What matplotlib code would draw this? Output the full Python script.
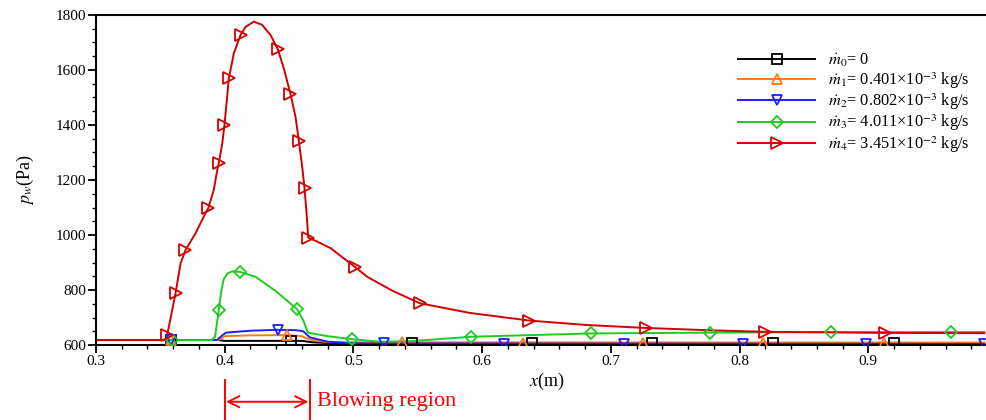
import numpy as np
import matplotlib
matplotlib.use("Agg")
import matplotlib.pyplot as plt
from matplotlib.lines import Line2D
from matplotlib.ticker import MultipleLocator

plt.rcParams['font.family'] = ['Liberation Serif', 'DejaVu Serif']
plt.rcParams['mathtext.fontset'] = 'stix'

# ---- data ----
# m0 = 0 (black)
x0 = [0.30, 0.395, 0.400, 0.460, 0.468, 0.480, 0.990]
y0 = [618, 618, 615, 615, 610, 607, 606]
x0_mk = [0.358, 0.4516, 0.5457, 0.639, 0.732, 0.826, 0.920]
y0_mk = [618, 613, 608, 607, 606, 606, 606]

# m1 = 0.401e-3 kg/s (orange)
x1 = [0.30, 0.395, 0.400, 0.420, 0.449, 0.460, 0.466, 0.480, 0.990]
y1 = [618, 618, 632, 635, 636, 632, 620, 610, 609]
x1_mk = [0.358, 0.4486, 0.538, 0.632, 0.725, 0.818, 0.912]
y1_mk = [618, 636, 610, 609, 609, 609, 609]

# m2 = 0.802e-3 kg/s (blue)
x2 = [0.30, 0.394, 0.398, 0.401, 0.420, 0.440, 0.455, 0.461, 0.466, 0.480, 0.500, 0.990]
y2 = [618, 618, 635, 645, 652, 655, 654, 650, 628, 612, 606, 604]
x2_mk = [0.358, 0.4416, 0.5236, 0.617, 0.710, 0.803, 0.898, 0.990]
y2_mk = [618, 654, 606, 605, 604, 604, 604, 604]

# m3 = 4.011e-3 kg/s (green)
x3 = [0.30, 0.390, 0.3925, 0.3954, 0.3975, 0.3993, 0.402, 0.406, 0.4118, 0.4239,
      0.440, 0.4563, 0.461, 0.4646, 0.480, 0.4991, 0.520, 0.545, 0.5915, 0.6842,
      0.777, 0.871, 0.990]
y3 = [618, 618, 630, 727, 800, 840, 860, 868, 866, 848,
      795, 730, 690, 645, 632, 621, 612, 614, 630, 642,
      645, 647, 647]
x3_mk = [0.359, 0.3954, 0.4118, 0.4563, 0.4991, 0.5915, 0.6842, 0.777, 0.871, 0.964]
y3_mk = [618, 727, 866, 730, 621, 630, 642, 645, 647, 647]

# m4 = 3.451e-2 kg/s (red)
x4 = [0.30, 0.354, 0.3553, 0.3618, 0.3657, 0.3695, 0.3773, 0.3850, 0.3872, 0.3915,
      0.3942, 0.3954, 0.3981, 0.3998, 0.4019, 0.4032, 0.4071, 0.4123, 0.4162, 0.4214,
      0.4226, 0.4291, 0.4356, 0.4413, 0.4459, 0.4511, 0.4550, 0.4576, 0.4602, 0.4620,
      0.4636, 0.4649, 0.4719, 0.4823, 0.4925, 0.5009, 0.5107, 0.530, 0.5514, 0.590,
      0.6363, 0.680, 0.727, 0.780, 0.820, 0.913, 0.990]
y4 = [618, 618, 636, 788, 897, 945, 1006, 1079, 1097, 1164,
      1236, 1261, 1333, 1400, 1503, 1570, 1661, 1727, 1757, 1772,
      1776, 1764, 1727, 1675, 1606, 1513, 1430, 1342, 1248, 1170,
      1079, 990, 976, 952, 915, 885, 848, 798, 752, 717,
      689, 673, 662, 653, 648, 644, 643]
x4_mk = [0.3553, 0.3618, 0.3695, 0.3872, 0.3954, 0.3998, 0.4032, 0.4123, 0.4413,
         0.4511, 0.4576, 0.4620, 0.4649, 0.5009, 0.5514, 0.6363, 0.727, 0.820, 0.913]
y4_mk = [636, 788, 945, 1097, 1261, 1400, 1570, 1727, 1675,
         1513, 1342, 1170, 990, 885, 752, 689, 662, 648, 644]

labels = [r'$\dot{m}_0$= 0',
          r'$\dot{m}_1$= 0.401×10$^{-3}$ kg/s',
          r'$\dot{m}_2$= 0.802×10$^{-3}$ kg/s',
          r'$\dot{m}_3$= 4.011×10$^{-3}$ kg/s',
          r'$\dot{m}_4$= 3.451×10$^{-2}$ kg/s']
colors = ['black', '#ff7a1a', '#1f1fff', '#1ecc1e', '#d40000']
markers = ['s', '^', 'v', 'D', '>']
msizes = [7, 7.5, 7.5, 6.5, 8]

blow_start, blow_end = 0.400, 0.466

series = [(x0, y0, x0_mk, y0_mk), (x1, y1, x1_mk, y1_mk), (x2, y2, x2_mk, y2_mk),
          (x3, y3, x3_mk, y3_mk), (x4, y4, x4_mk, y4_mk)]

fig = plt.figure(figsize=(9.86, 4.2), dpi=100)
ax = fig.add_axes([96/986, 75/420, 901/986, 330/420])

handles = []
for (xs, ys, xm, ym), c, m, ms, lab in zip(series, colors, markers, msizes, labels):
    ax.plot(xs, ys, color=c, lw=1.4, zorder=2, solid_joinstyle='round')
    ax.plot(xm, ym, ls='none', marker=m, ms=ms, mfc='none', mec=c, mew=1.3, zorder=3)
    handles.append(Line2D([], [], color=c, lw=1.4, marker=m, ms=ms, mfc='none', mec=c,
                          mew=1.3, label=lab))

ax.set_xlim(0.3, 1.0)
ax.set_ylim(600, 1800)
ax.xaxis.set_minor_locator(MultipleLocator(0.02))
ax.yaxis.set_major_locator(MultipleLocator(200))
ax.yaxis.set_minor_locator(MultipleLocator(50))
ax.set_xticks(np.arange(0.3, 0.95, 0.1))
ax.set_xticklabels(['0.3', '0.4', '0.5', '0.6', '0.7', '0.8', '0.9'])
ax.tick_params(which='major', direction='out', length=6, width=1.3, labelsize=11, pad=1)
ax.tick_params(which='minor', direction='out', length=3, width=1.0)
for s in ['left', 'bottom', 'top', 'right']:
    ax.spines[s].set_linewidth(1.5)

ax.set_xlabel(r'$x$(m)', fontsize=13, labelpad=2)
ax.set_ylabel(r'$p_w$(Pa)', fontsize=13, labelpad=14)

ax.legend(handles=handles, loc='upper left', bbox_to_anchor=(738/986, 1 - 52/420),
          bbox_transform=fig.transFigure, frameon=False, fontsize=11.8,
          handlelength=4.7, handletextpad=0.8, labelspacing=0.05, borderpad=0,
          borderaxespad=0)

# blowing region annotation below the axis
tr = ax.get_xaxis_transform()
for xb in (blow_start, blow_end):
    ax.plot([xb, xb], [-0.106, -0.25], color='red', lw=1.4, transform=tr, clip_on=False)
ax.annotate('', xy=(blow_start + 0.001, -0.172), xytext=(blow_end - 0.001, -0.172),
            xycoords=tr, textcoords=tr,
            arrowprops=dict(arrowstyle='<->', color='red', lw=1.4, mutation_scale=20,
                            shrinkA=0, shrinkB=0))
ax.text(blow_end + 0.006, -0.172, 'Blowing region', color='red', fontsize=16,
        transform=tr, va='center', ha='left')

fig.savefig('out.png', dpi=100)
